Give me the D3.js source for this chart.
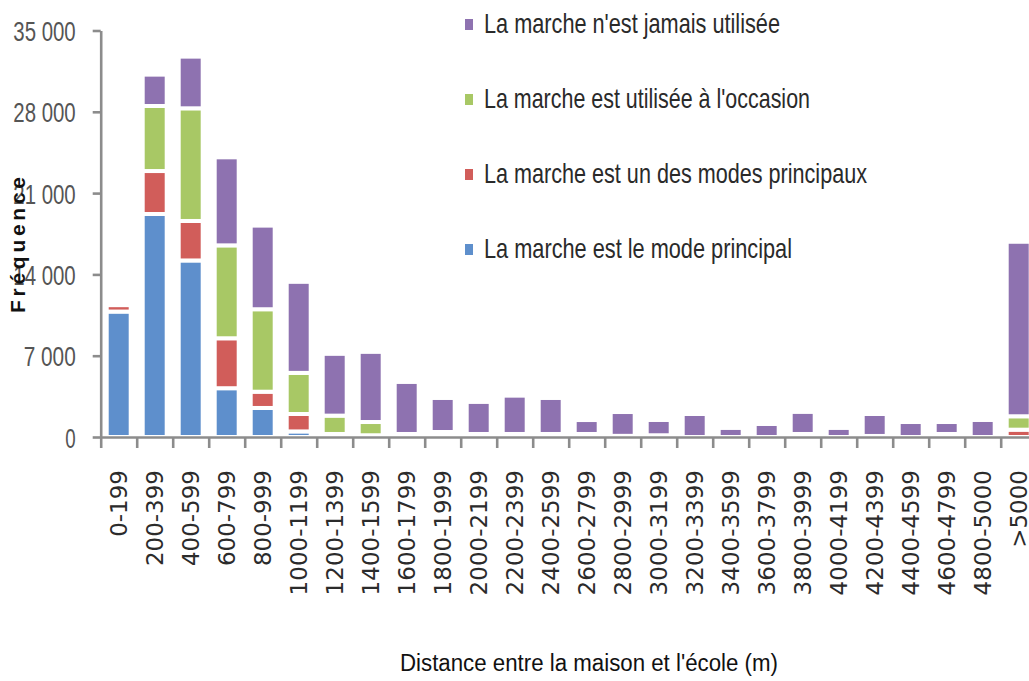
<!DOCTYPE html>
<html>
<head>
<meta charset="utf-8">
<script src="https://cdn.jsdelivr.net/npm/d3@7"></script>
<style>
  body { margin: 0; background: #fff; }
  svg { display: block; }
</style>
</head>
<body>
<div class="chart-container"></div>
<script>
// distance classes (m)
const categories = ["0-199", "200-399", "400-599", "600-799", "800-999", "1000-1199", "1200-1399",
  "1400-1599", "1600-1799", "1800-1999", "2000-2199", "2200-2399", "2400-2599", "2600-2799",
  "2800-2999", "3000-3199", "3200-3399", "3400-3599", "3600-3799", "3800-3999", "4000-4199",
  "4200-4399", "4400-4599", "4600-4799", "4800-5000", ">5000"];

// values
const modePrincipal = [10800, 19200, 15200, 4200, 2500, 480, 100, 50, 0, 0, 0, 0, 0, 0,
  0, 0, 0, 0, 0, 0, 0, 0, 0, 0, 0, 0];
const unDesModes = [550, 3700, 3400, 4300, 1400, 1500, 160, 100, 0, 130, 0, 0, 0, 0,
  0, 0, 0, 0, 0, 0, 0, 0, 0, 0, 0, 630];
const occasion = [0, 5600, 9700, 8000, 7100, 3540, 1580, 1140, 260, 300, 260, 260, 260, 260,
  100, 150, 0, 0, 0, 260, 0, 90, 0, 260, 0, 1155];
const jamais = [0, 2700, 4450, 7580, 7200, 7840, 5320, 6040, 4480, 2930, 2760, 3300, 3100, 1200,
  2050, 1315, 1980, 780, 1120, 1900, 780, 1890, 1290, 1030, 1465, 15025];

const yTicks = [0, 7000, 14000, 21000, 28000, 35000];

const keys = ["principal", "undes", "occasion", "jamais"];
const colors = {principal: "#5e8fcc", undes: "#d15d5a", occasion: "#a8c865", jamais: "#8e72b0"};
// legend, top to bottom
const legendItems = [
  {key: "jamais", label: "La marche n'est jamais utilisée", len: 296},
  {key: "occasion", label: "La marche est utilisée à l'occasion", len: 326},
  {key: "undes", label: "La marche est un des modes principaux", len: 383},
  {key: "principal", label: "La marche est le mode principal", len: 308}
];

const W = 1029, H = 681;
const plotLeft = 100.7, plotRight = 1036.7, plotTop = 30.5, plotBottom = 437;

const table = categories.map((c, i) => ({
  cat: c,
  principal: modePrincipal[i],
  undes: unDesModes[i],
  occasion: occasion[i],
  jamais: jamais[i]
}));

const svg = d3.select(".chart-container")
  .append("svg")
  .attr("width", W)
  .attr("height", H);

const x = d3.scaleBand()
  .domain(categories)
  .range([plotLeft, plotRight])
  .paddingInner(1 / 3)
  .paddingOuter(1 / 6);

const xEdge = d3.scaleLinear()
  .domain([0, categories.length])
  .range([plotLeft, plotRight]);

const y = d3.scaleLinear()
  .domain([0, 35000])
  .range([plotBottom, plotTop]);

const stacked = d3.stack().keys(keys)(table);

// bars (white border gives the gaps between segments)
svg.append("g")
  .selectAll("g")
  .data(stacked)
  .enter()
  .append("g")
  .attr("fill", s => colors[s.key])
  .selectAll("rect")
  .data(s => s.filter(d => d[1] - d[0] > 0))
  .enter()
  .append("rect")
  .attr("x", d => x(d.data.cat))
  .attr("y", d => y(d[1]))
  .attr("width", x.bandwidth())
  .attr("height", d => y(d[0]) - y(d[1]))
  .attr("stroke", "#fff")
  .attr("stroke-width", 4);

// y axis
const yAxis = svg.append("g")
  .attr("transform", `translate(${plotLeft},0)`)
  .call(d3.axisLeft(y)
    .tickValues(yTicks)
    .tickSize(8)
    .tickSizeOuter(0)
    .tickPadding(17)
    .tickFormat(d => d3.format(",")(d).replace(",", " ")));

yAxis.selectAll("text")
  .attr("font-family", "'Liberation Sans', Arial, sans-serif")
  .attr("font-size", 28)
  .attr("fill", "#555")
  .attr("dy", "0.36em")
  .attr("textLength", function () { return this.textContent.length * 10.4; })
  .attr("lengthAdjust", "spacingAndGlyphs");

// x axis: ticks between categories
svg.append("g")
  .attr("transform", `translate(0,${plotBottom})`)
  .call(d3.axisBottom(xEdge)
    .tickValues(d3.range(categories.length + 1))
    .tickSize(11)
    .tickSizeOuter(0)
    .tickFormat(""));

svg.selectAll(".domain, .tick line")
  .attr("stroke", "#8c8c8c")
  .attr("stroke-width", 2.6);

// category labels
svg.append("g")
  .selectAll("text")
  .data(categories)
  .enter()
  .append("text")
  .attr("transform", d => `translate(${x(d) + x.bandwidth() / 2},470) rotate(-90)`)
  .attr("text-anchor", "end")
  .attr("dy", "0.36em")
  .attr("font-family", "'DejaVu Sans', Verdana, sans-serif")
  .attr("font-size", 23)
  .attr("fill", "#2b2b2b")
  .text(d => d);

// axis titles
svg.append("text")
  .attr("x", 589)
  .attr("y", 671)
  .attr("text-anchor", "middle")
  .attr("font-family", "'Liberation Sans', Arial, sans-serif")
  .attr("font-size", 23)
  .attr("fill", "#111")
  .attr("textLength", 378)
  .attr("lengthAdjust", "spacingAndGlyphs")
  .text("Distance entre la maison et l'école (m)");

svg.append("text")
  .attr("transform", "translate(25,245) rotate(-90)")
  .attr("text-anchor", "middle")
  .attr("font-family", "'Liberation Sans', Arial, sans-serif")
  .attr("font-weight", "bold")
  .attr("font-size", 21)
  .attr("fill", "#111")
  .attr("textLength", 136)
  .attr("lengthAdjust", "spacing")
  .text("Fréquence");

// legend
const legend = svg.append("g")
  .selectAll("g")
  .data(legendItems)
  .enter()
  .append("g")
  .attr("transform", (d, i) => `translate(465,${33 + i * 75})`);

legend.append("rect")
  .attr("x", 0)
  .attr("y", -14)
  .attr("width", 8)
  .attr("height", 11)
  .attr("fill", d => colors[d.key]);

legend.append("text")
  .attr("x", 19)
  .attr("y", 0)
  .attr("font-family", "'Liberation Sans', Arial, sans-serif")
  .attr("font-size", 28)
  .attr("fill", "#2a2a2a")
  .attr("textLength", d => d.len)
  .attr("lengthAdjust", "spacingAndGlyphs")
  .text(d => d.label);
</script>
</body>
</html>
